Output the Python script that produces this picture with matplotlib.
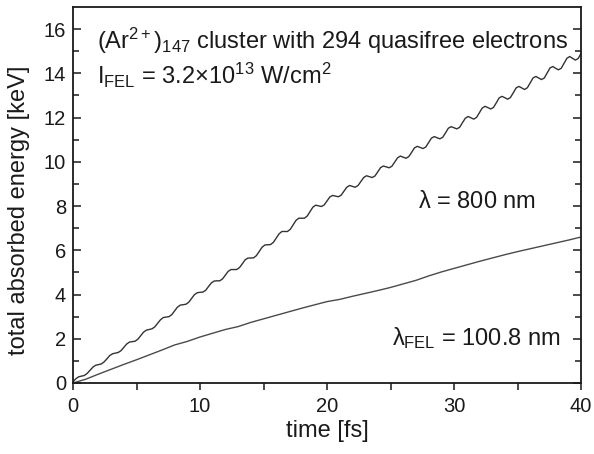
import numpy as np
import matplotlib
matplotlib.use("Agg")
import matplotlib.pyplot as plt

plt.rcParams['font.family'] = ['Liberation Sans', 'DejaVu Sans']
plt.rcParams['mathtext.fontset'] = 'custom'
plt.rcParams['mathtext.rm'] = 'Liberation Sans'
plt.rcParams['mathtext.it'] = 'Liberation Sans'

# Upper curve (lambda = 800 nm), read every 2/9 fs from 0 to 40 fs
t_upper = np.linspace(0, 40, 181)
e_upper = [
    0.05, 0.19, 0.28, 0.31, 0.34, 0.43, 0.57, 0.71, 0.80, 0.83,
    0.86, 0.95, 1.09, 1.24, 1.32, 1.35, 1.38, 1.46, 1.61, 1.76,
    1.85, 1.87, 1.89, 1.98, 2.14, 2.30, 2.39, 2.42, 2.45, 2.54,
    2.70, 2.86, 2.96, 2.98, 3.00, 3.09, 3.26, 3.43, 3.52, 3.54,
    3.56, 3.65, 3.82, 3.99, 4.08, 4.10, 4.11, 4.19, 4.36, 4.52,
    4.61, 4.62, 4.62, 4.71, 4.88, 5.05, 5.13, 5.13, 5.13, 5.22,
    5.39, 5.57, 5.65, 5.65, 5.66, 5.76, 5.95, 6.14, 6.24, 6.25,
    6.26, 6.36, 6.55, 6.74, 6.85, 6.85, 6.85, 6.95, 7.15, 7.35,
    7.45, 7.45, 7.45, 7.55, 7.75, 7.95, 8.04, 8.01, 7.98, 8.05,
    8.23, 8.41, 8.48, 8.45, 8.42, 8.49, 8.67, 8.85, 8.93, 8.89,
    8.85, 8.93, 9.11, 9.29, 9.37, 9.33, 9.29, 9.36, 9.55, 9.74,
    9.81, 9.77, 9.73, 9.80, 9.99, 10.18, 10.26, 10.21, 10.16, 10.24,
    10.43, 10.63, 10.70, 10.65, 10.60, 10.67, 10.87, 11.07, 11.14, 11.09,
    11.04, 11.11, 11.31, 11.52, 11.59, 11.54, 11.49, 11.56, 11.77, 11.97,
    12.05, 11.99, 11.93, 12.01, 12.22, 12.43, 12.51, 12.45, 12.39, 12.46,
    12.67, 12.89, 12.96, 12.90, 12.83, 12.91, 13.12, 13.34, 13.41, 13.34,
    13.27, 13.35, 13.57, 13.79, 13.86, 13.79, 13.72, 13.79, 14.01, 14.24,
    14.31, 14.23, 14.16, 14.23, 14.46, 14.68, 14.76, 14.68, 14.60, 14.67,
    14.90,
]

# Lower curve (lambda_FEL = 100.8 nm), read every 1 fs
t_lower = np.arange(0, 41)
e_lower = [
    0.00, 0.17, 0.40, 0.62, 0.84, 1.05, 1.27, 1.49, 1.72, 1.88,
    2.08, 2.25, 2.42, 2.55, 2.74, 2.90, 3.06, 3.22, 3.38, 3.53,
    3.68, 3.78, 3.92, 4.05, 4.18, 4.32, 4.48, 4.64, 4.84, 5.02,
    5.18, 5.34, 5.50, 5.65, 5.80, 5.94, 6.07, 6.20, 6.33, 6.46,
    6.60,
]

x_ticks = [0, 10, 20, 30, 40]
y_ticks = [0, 2, 4, 6, 8, 10, 12, 14, 16]

fig = plt.figure(figsize=(5.94, 4.54), dpi=100)
ax = fig.add_axes([73/594, 1 - 383/454, (581-73)/594, (383-7)/454])

ax.plot(t_upper, e_upper, color='#333333', lw=1.0)
ax.plot(t_lower, e_lower, color='#4a4a4a', lw=1.0)

ax.set_xlim(0, 40)
ax.set_ylim(0, 17)
ax.set_xticks(x_ticks)
ax.set_yticks(y_ticks)
ax.set_xticks([5, 15, 25, 35], minor=True)
ax.set_yticks(np.arange(1, 17, 2), minor=True)

ax.tick_params(axis='y', which='both', direction='in', left=True, right=True,
               labelsize=14.5, pad=5, colors='#1a1a1a')
ax.tick_params(axis='y', which='major', length=6, width=1.1)
ax.tick_params(axis='y', which='minor', length=4, width=1.1)
ax.tick_params(axis='x', which='both', direction='out', top=False,
               labelsize=14.5, pad=5, colors='#1a1a1a')
ax.tick_params(axis='x', which='major', length=5, width=1.1)
ax.tick_params(axis='x', which='minor', length=5, width=1.1)

for s in ax.spines.values():
    s.set_linewidth(1.3)
    s.set_color('#1a1a1a')

ax.set_xlabel('time [fs]', fontsize=17, color='#1a1a1a')
ax.xaxis.set_label_coords(0.5, -(431 - 383) / 376, transform=ax.transAxes)
ax.set_ylabel('total absorbed energy [keV]', fontsize=17, color='#1a1a1a')
ax.yaxis.set_label_coords((19 - 73) / 508, (383 - 210) / 376, transform=ax.transAxes)
ax.xaxis.label.set_va('center')
ax.yaxis.label.set_va('center')

ax.text(1.9, 15.45, r'(Ar$^{\mathregular{2+}}$)$_{147}$ cluster with 294 quasifree electrons',
        fontsize=17, va='center', ha='left', color='#1a1a1a')
ax.text(1.9, 13.9, r'I$_{\rm FEL}$ = 3.2$\times$10$^{13}$ W/cm$^{2}$',
        fontsize=17, va='center', ha='left', color='#1a1a1a')
ax.text(27.2, 8.2, r'$\lambda$ = 800 nm', fontsize=17, va='center', ha='left',
        color='#1a1a1a')
ax.text(25.1, 2.04, r'$\lambda_{\rm FEL}$ = 100.8 nm', fontsize=17, va='center',
        ha='left', color='#1a1a1a')

fig.savefig('out.png', dpi=100)
